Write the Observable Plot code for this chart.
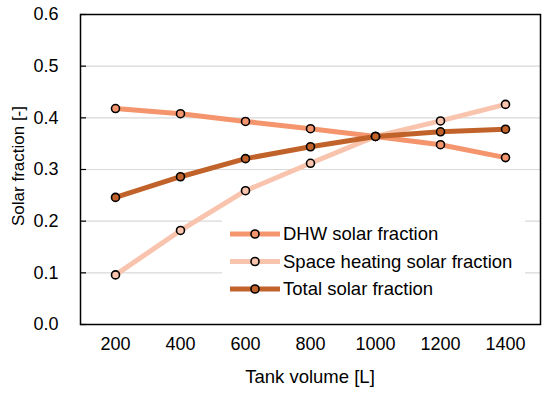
<!DOCTYPE html>
<html><head><meta charset="utf-8">
<script src="https://cdn.jsdelivr.net/npm/d3@7"></script>
<script src="https://cdn.jsdelivr.net/npm/@observablehq/plot@0.6"></script>
<style>
body{margin:0;background:#fff;font-family:"Liberation Sans",Arial,sans-serif;}
#chart{position:relative;width:550px;height:396px;}
</style></head>
<body><div id="chart"></div>
<script>
const volumes = [200, 400, 600, 800, 1000, 1200, 1400];
const dhw = [0.418, 0.408, 0.393, 0.379, 0.364, 0.348, 0.323];
const spaceHeating = [0.096, 0.182, 0.259, 0.312, 0.364, 0.394, 0.426];
const total = [0.246, 0.286, 0.321, 0.344, 0.364, 0.373, 0.378];
const seriesNames = ["DHW solar fraction", "Space heating solar fraction", "Total solar fraction"];
const seriesColors = ["#F4956D", "#F8C4AE", "#C0622A"];
const yTicks = [0, 0.1, 0.2, 0.3, 0.4, 0.5, 0.6];

const allSeries = [dhw, spaceHeating, total];
const data = [];
allSeries.forEach((vals, si) => vals.forEach((v, i) => data.push({series: seriesNames[si], volume: volumes[i], value: v})));

const marks = [
  Plot.gridY(yTicks, {stroke: "#d9d9d9", strokeOpacity: 1, strokeWidth: 1.2}),
  Plot.axisY(yTicks, {tickSize: 0, tickPadding: 22, tickFormat: d3.format(".1f"), fontSize: 18, label: null}),
  Plot.axisY(yTicks, {tickSize: 6, tickFormat: () => "", dx: 6, stroke: "black", strokeWidth: 1.2, label: null}),
  Plot.axisX({tickSize: 0, tickPadding: 13, fontSize: 18, tickFormat: d => String(d), label: null}),
  Plot.frame({stroke: "black", strokeWidth: 1.5}),
];
seriesNames.forEach((name, si) => {
  const d = data.filter(r => r.series === name);
  marks.push(Plot.line(d, {x: "volume", y: "value", stroke: seriesColors[si], strokeWidth: 5, strokeLinecap: "butt"}));
});
seriesNames.forEach((name, si) => {
  const d = data.filter(r => r.series === name);
  marks.push(Plot.dot(d, {x: "volume", y: "value", r: 4, fill: seriesColors[si], stroke: "black", strokeWidth: 1.6}));
});

const plot = Plot.plot({
  width: 550, height: 396,
  marginLeft: 80, marginRight: 10, marginTop: 14, marginBottom: 72,
  style: {fontFamily: "Liberation Sans, Arial, sans-serif", fontSize: "18px", color: "black", background: "white"},
  x: {type: "point", domain: volumes, padding: 0.5},
  y: {domain: [0, 0.6]},
  marks
});

const svg = d3.select(plot);
// axis titles
svg.append("text").attr("x", 310).attr("y", 383).attr("text-anchor", "middle")
  .style("font-size", "18.5px").attr("fill", "black").text("Tank volume [L]");
svg.append("text").attr("transform", "translate(24,166) rotate(-90)").attr("text-anchor", "middle")
  .style("font-size", "17px").attr("fill", "black").text("Solar fraction [-]");
// legend
const lg = svg.append("g");
lg.append("rect").attr("x", 222).attr("y", 218).attr("width", 303).attr("height", 86).attr("fill", "white");
seriesNames.forEach((name, i) => {
  const y = 234 + i * 27.5;
  lg.append("line").attr("x1", 230).attr("x2", 280).attr("y1", y).attr("y2", y)
    .attr("stroke", seriesColors[i]).attr("stroke-width", 5);
  lg.append("circle").attr("cx", 255).attr("cy", y).attr("r", 4)
    .attr("fill", seriesColors[i]).attr("stroke", "black").attr("stroke-width", 1.6);
  lg.append("text").attr("x", 283).attr("y", y).attr("dy", "0.35em").attr("text-anchor", "start")
    .style("font-size", "18.5px").attr("fill", "black").text(name);
});
document.getElementById("chart").appendChild(plot);
</script></body></html>
